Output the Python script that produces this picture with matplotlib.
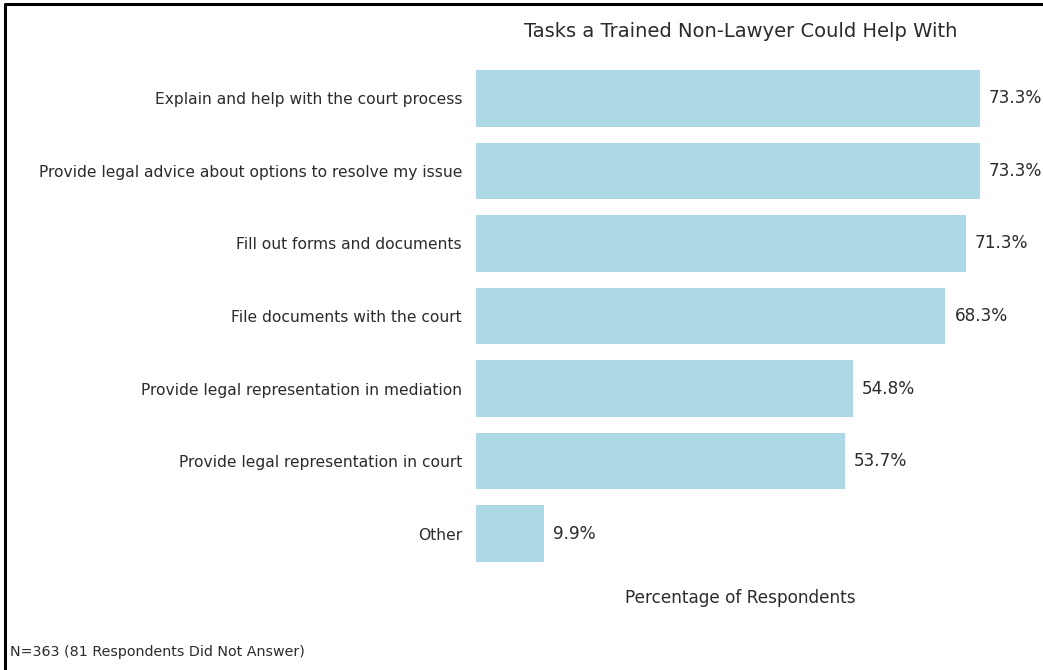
import matplotlib.pyplot as plt
from matplotlib.lines import Line2D

# data
tasks = [
    "Explain and help with the court process",
    "Provide legal advice about options to resolve my issue",
    "Fill out forms and documents",
    "File documents with the court",
    "Provide legal representation in mediation",
    "Provide legal representation in court",
    "Other",
]
percentages = [73.3, 73.3, 71.3, 68.3, 54.8, 53.7, 9.9]
title = "Tasks a Trained Non-Lawyer Could Help With"
xlabel = "Percentage of Respondents"
footnote = "N=363 (81 Respondents Did Not Answer)"

text_color = "#2b2b2b"

fig = plt.figure(figsize=(10.43, 6.7), dpi=100)
# axes placed to match the reference: left 476px, top 62px, bottom 570px
ax = fig.add_axes([476 / 1043, 1 - 570 / 670, (1005 - 476) / 1043, (570 - 62) / 670])

ypos = list(range(len(tasks)))
ax.barh(ypos, percentages, height=0.78, color="#add8e6")
ax.set_ylim(len(tasks) - 0.5, -0.5)
ax.set_xlim(0, max(percentages) * 1.05)

for y, v in zip(ypos, percentages):
    ax.text(v + 1.3, y, f"{v}%", va="center", ha="left", fontsize=12.2, color=text_color)

ax.set_yticks(ypos)
ax.set_yticklabels(tasks, fontsize=11.2, color=text_color)
ax.tick_params(axis="y", length=0, pad=10)
ax.set_xticks([])
for s in ax.spines.values():
    s.set_visible(False)

ax.set_title(title, fontsize=14, color=text_color, pad=18)
ax.set_xlabel(xlabel, fontsize=12.2, color=text_color, labelpad=14)

fig.text(10 / 1043, 1 - 652 / 670, footnote, fontsize=10.3, color=text_color, va="center")

# black frame lines at the left and top (the rest is cut off in the reference)
fx = [5 / 1043, 5 / 1043, 1]
fy = [0, 1 - 4 / 670, 1 - 4 / 670]
fig.add_artist(Line2D(fx, fy, transform=fig.transFigure, color="black", linewidth=2.2))

fig.savefig("out.png", dpi=100)
